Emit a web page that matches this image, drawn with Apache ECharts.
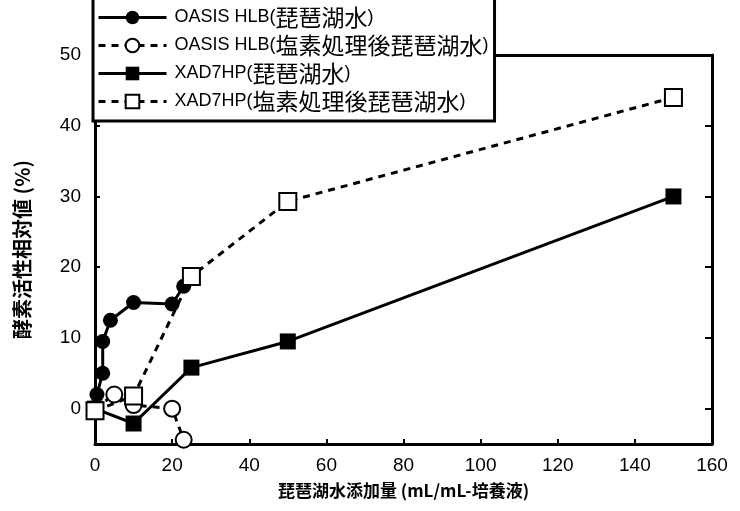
<!DOCTYPE html>
<html>
<head>
<meta charset="utf-8">
<script src="https://cdn.jsdelivr.net/npm/echarts@6/dist/echarts.min.js"></script>
<style>
  html, body { margin: 0; padding: 0; background: #fff; }
  #chart { width: 740px; height: 511px; }
</style>
</head>
<body>
<div id="chart"></div>
<script>
  // series names
  const seriesNames = [
    'OASIS HLB(琵琶湖水)',
    'OASIS HLB(塩素処理後琵琶湖水)',
    'XAD7HP(琵琶湖水)',
    'XAD7HP(塩素処理後琵琶湖水)'
  ];

  // OASIS HLB, lake water
  const oasisLakeX = [0.5, 2, 2, 4, 10, 20, 23];
  const oasisLakeY = [2, 5, 9.5, 12.5, 15, 14.8, 17.3];

  // OASIS HLB, chlorinated lake water
  const oasisClX = [0, 5, 10, 20, 23];
  const oasisClY = [0, 2, 0.5, 0, -4.4];

  // XAD7HP, lake water
  const xadLakeX = [0, 10, 25, 50, 150];
  const xadLakeY = [0, -2.1, 5.8, 9.5, 30];

  // XAD7HP, chlorinated lake water
  const xadClX = [0, 10, 25, 50, 150];
  const xadClY = [-0.3, 1.8, 18.7, 29.3, 44];

  // tick labels
  const xTicks = [0, 20, 40, 60, 80, 100, 120, 140, 160];
  const yTicks = [0, 10, 20, 30, 40, 50];

  const pairs = (xs, ys) => xs.map((x, i) => [x, ys[i]]);

  const latin = '"Liberation Sans", Arial, sans-serif';
  const cjk = '"Noto Sans CJK JP", sans-serif';

  const chart = echarts.init(document.getElementById('chart'));

  const frameAxis = {
    show: true,
    onZero: false,
    lineStyle: { color: '#000', width: 3 }
  };

  const legendLabel = (name) => {
    const m = name.match(/^([A-Z0-9 ]+\()(.*)(\))$/);
    if (!m) return name;
    return '{a|' + m[1] + '}{b|' + m[2] + '}{a|' + m[3] + '}';
  };

  const option = {
    animation: false,
    backgroundColor: '#fff',
    grid: { left: 95, right: 28, top: 55, bottom: 67 },
    legend: {
      orient: 'vertical',
      left: 93,
      top: -4,
      padding: [10, 6, 8, 4],
      itemGap: 5,
      itemWidth: 68,
      itemHeight: 17,
      backgroundColor: '#fff',
      borderColor: '#000',
      borderWidth: 3,
      z: 10,
      data: seriesNames,
      formatter: legendLabel,
      lineStyle: { width: 3, color: '#000' },
      textStyle: {
        color: '#000',
        padding: [0, 0, 0, 3],
        rich: {
          a: { fontFamily: latin, fontSize: 18, color: '#000', lineHeight: 22 },
          b: { fontFamily: cjk, fontSize: 23, color: '#000', lineHeight: 22 }
        }
      }
    },
    xAxis: [
      {
        type: 'value',
        min: 0,
        max: 160,
        interval: 20,
        name: '琵琶湖水添加量 (mL/mL-培養液)',
        nameLocation: 'middle',
        nameGap: 38,
        nameTextStyle: { fontFamily: cjk, fontSize: 17, fontWeight: 'bold', color: '#000' },
        axisLine: frameAxis,
        axisTick: { inside: true, length: 5, lineStyle: { color: '#000', width: 2 } },
        axisLabel: { fontFamily: latin, fontSize: 19, color: '#000', margin: 12 },
        splitLine: { show: false }
      },
      {
        type: 'value',
        position: 'top',
        min: 0,
        max: 160,
        interval: 20,
        axisLine: frameAxis,
        axisTick: { show: false },
        axisLabel: { show: false },
        splitLine: { show: false }
      }
    ],
    yAxis: [
      {
        type: 'value',
        min: -5,
        max: 50,
        name: '酵素活性相対値 (%)',
        nameLocation: 'middle',
        nameRotate: 90,
        nameGap: 63,
        nameTextStyle: { fontFamily: cjk, fontSize: 20, fontWeight: 'bold', color: '#000' },
        axisLine: frameAxis,
        axisTick: {
          inside: true, length: 5, customValues: yTicks,
          lineStyle: { color: '#000', width: 2 }
        },
        axisLabel: {
          fontFamily: latin, fontSize: 19, color: '#000', margin: 14,
          customValues: yTicks
        },
        splitLine: { show: false }
      },
      {
        type: 'value',
        position: 'right',
        min: -5,
        max: 50,
        axisLine: frameAxis,
        axisTick: {
          inside: true, length: 7, customValues: yTicks,
          lineStyle: { color: '#000', width: 2 }
        },
        axisLabel: { show: false },
        splitLine: { show: false }
      }
    ],
    series: [
      {
        name: seriesNames[0],
        type: 'line',
        data: pairs(oasisLakeX, oasisLakeY),
        symbol: 'circle',
        symbolSize: 15,
        lineStyle: { color: '#000', width: 3 },
        itemStyle: { color: '#000' }
      },
      {
        name: seriesNames[1],
        type: 'line',
        data: pairs(oasisClX, oasisClY),
        symbol: 'circle',
        symbolSize: 16,
        lineStyle: { color: '#000', width: 3, type: [7, 6] },
        itemStyle: { color: '#fff', borderColor: '#000', borderWidth: 2 }
      },
      {
        name: seriesNames[2],
        type: 'line',
        data: pairs(xadLakeX, xadLakeY),
        symbol: 'rect',
        symbolSize: 16,
        lineStyle: { color: '#000', width: 3 },
        itemStyle: { color: '#000' }
      },
      {
        name: seriesNames[3],
        type: 'line',
        data: pairs(xadClX, xadClY),
        symbol: 'rect',
        symbolSize: 17,
        lineStyle: { color: '#000', width: 3, type: [7, 6] },
        itemStyle: { color: '#fff', borderColor: '#000', borderWidth: 2 }
      }
    ]
  };

  chart.setOption(option);
  window.addEventListener('resize', () => chart.resize());
</script>
</body>
</html>
